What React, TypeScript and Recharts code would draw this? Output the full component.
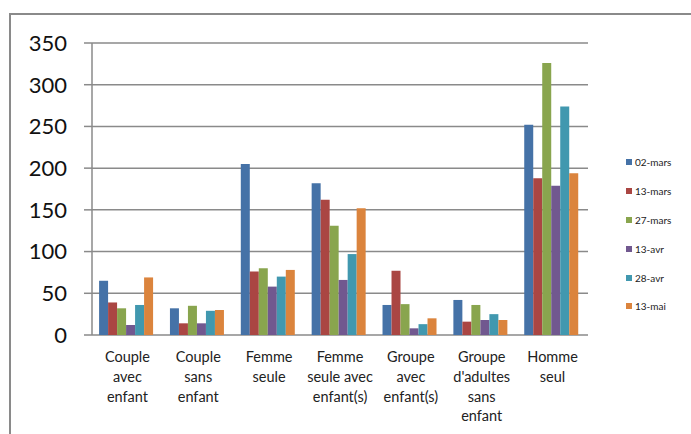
import { Bar, BarChart, CartesianGrid, XAxis, YAxis } from "recharts";

const categoryLines: string[][] = [
  ["Couple", "avec", "enfant"],
  ["Couple", "sans", "enfant"],
  ["Femme", "seule"],
  ["Femme", "seule avec", "enfant(s)"],
  ["Groupe", "avec", "enfant(s)"],
  ["Groupe", "d'adultes", "sans", "enfant"],
  ["Homme", "seul"],
];
const categories = categoryLines.map((l) => l.join(" "));

const seriesNames = ["02-mars", "13-mars", "27-mars", "13-avr", "28-avr", "13-mai"];
const seriesColors = ["#4572A7", "#AA4643", "#89A54E", "#71588F", "#4198AF", "#DB843D"];

const mars02 = [65, 32, 205, 182, 36, 42, 252];
const mars13 = [39, 14, 76, 162, 77, 16, 188];
const mars27 = [32, 35, 80, 131, 37, 36, 326];
const avr13 = [12, 14, 58, 66, 8, 18, 179];
const avr28 = [36, 29, 70, 97, 13, 25, 274];
const mai13 = [69, 30, 78, 152, 20, 18, 194];

const yTicks = [0, 50, 100, 150, 200, 250, 300, 350];
const boundaryTicks = [0, 1, 2, 3, 4, 5, 6, 7];

const allSeries = [mars02, mars13, mars27, avr13, avr28, mai13];
const rows = categories.map((name, i) => {
  const row: Record<string, string | number> = { name, idx: i };
  seriesNames.forEach((s, k) => {
    row[s] = allSeries[k][i];
  });
  return row;
});

const FONT = "Lato, 'Open Sans', sans-serif";
const GRID = "#8a8a8a";

function CategoryTick(props: any) {
  const { x, y, payload } = props;
  const lines = categoryLines[payload.index] ?? [String(payload.value)];
  return (
    <g>
      {lines.map((line, i) => (
        <text
          key={i}
          x={x}
          y={y + 27 + i * 19.8}
          textAnchor="middle"
          fontSize={14.5}
          fontFamily={FONT}
          fill="#222"
        >
          {line}
        </text>
      ))}
    </g>
  );
}

export default function App() {
  return (
    <div style={{ position: "absolute", left: 0, top: 0, width: 691, height: 434, background: "#fff", overflow: "hidden" }}>
      <div
        style={{
          position: "absolute",
          left: 9,
          top: 13,
          width: 700,
          height: 440,
          borderTop: `2px solid ${GRID}`,
          borderLeft: `2px solid ${GRID}`,
        }}
      />
      <div style={{ position: "absolute", left: 0, top: 0 }}>
        <BarChart
          width={691}
          height={434}
          data={rows}
          margin={{ top: 43, right: 103, left: 0, bottom: 9 }}
          barCategoryGap="10%"
          barGap={0}
        >
          <CartesianGrid xAxisId="cat" vertical={false} stroke={GRID} strokeWidth={1.5} />
          <XAxis
            xAxisId="num"
            type="number"
            dataKey="idx"
            domain={[0, 7]}
            ticks={boundaryTicks}
            height={0}
            tickSize={6}
            tickFormatter={() => ""}
            axisLine={{ stroke: GRID, strokeWidth: 1.5 }}
            tickLine={{ stroke: GRID, strokeWidth: 1.5 }}
            allowDataOverflow
          />
          <XAxis
            xAxisId="cat"
            dataKey="name"
            height={90}
            axisLine={false}
            tickLine={false}
            tickSize={0}
            tickMargin={0}
            interval={0}
            tick={<CategoryTick />}
          />
          <YAxis
            width={92}
            domain={[0, 350]}
            ticks={yTicks}
            tickSize={8}
            tickMargin={17}
            axisLine={{ stroke: GRID, strokeWidth: 1.5 }}
            tickLine={{ stroke: GRID, strokeWidth: 1.5 }}
            tick={{ fontSize: 22, fontFamily: FONT, fill: "#111" }}
          />
          {seriesNames.map((s, k) => (
            <Bar key={s} xAxisId="cat" dataKey={s} fill={seriesColors[k]} isAnimationActive={false} />
          ))}
        </BarChart>
      </div>
      <div style={{ position: "absolute", left: 626, top: 148, fontFamily: FONT, fontSize: 10, color: "#222" }}>
        {seriesNames.map((s, k) => (
          <div key={s} style={{ display: "flex", alignItems: "center", height: 28.8 }}>
            <span style={{ width: 6, height: 6, background: seriesColors[k], marginRight: 3 }} />
            <span>{s}</span>
          </div>
        ))}
      </div>
    </div>
  );
}
